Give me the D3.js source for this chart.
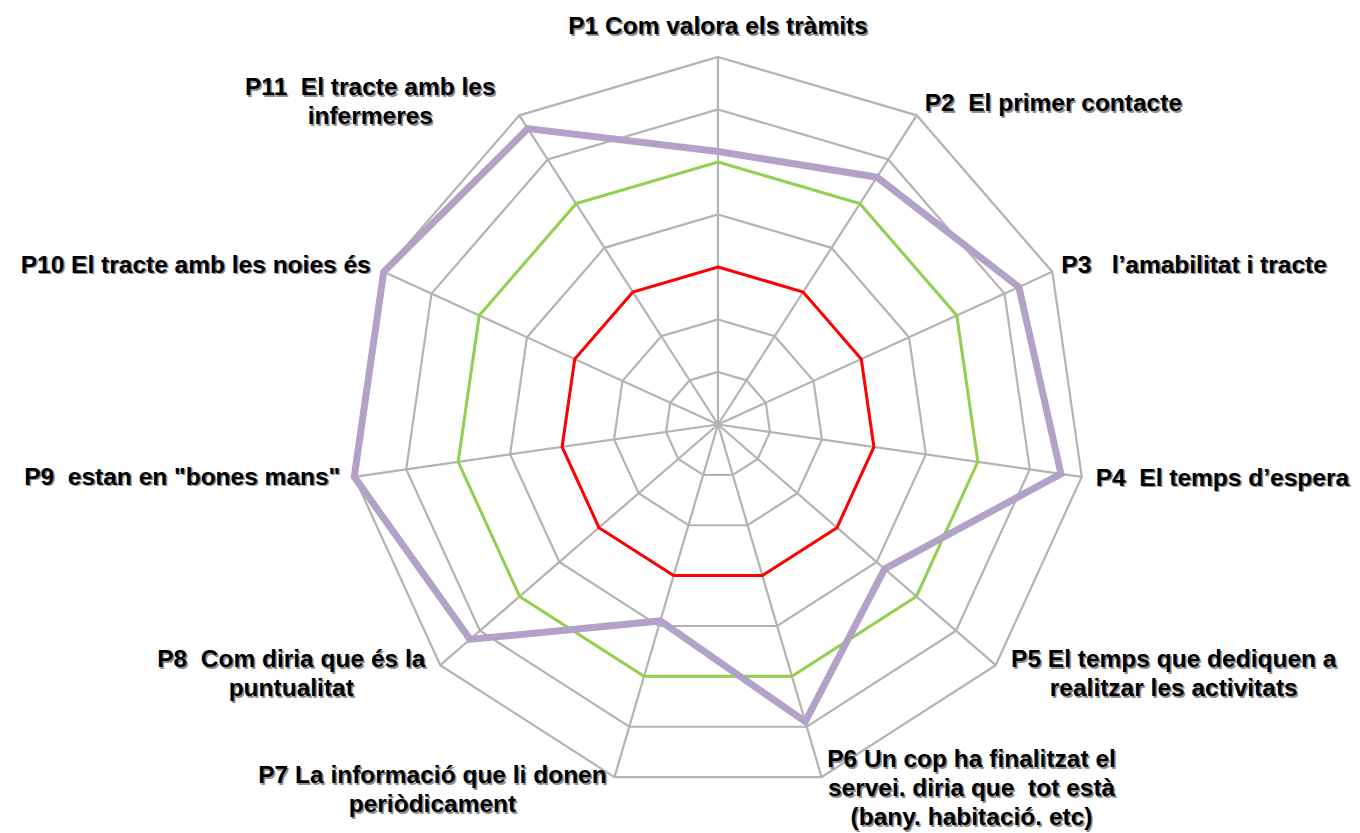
<!DOCTYPE html>
<html>
<head>
<meta charset="utf-8">
<script src="https://cdn.jsdelivr.net/npm/d3@7/dist/d3.min.js"></script>
<style>
html,body{margin:0;padding:0;background:#fff;}
svg{display:block;}
text{font-family:"Liberation Sans",Arial,sans-serif;font-weight:bold;white-space:pre;}
</style>
</head>
<body>
<svg id="chart" width="1360" height="833"></svg>
<script>
// ---- data ----
const categories = ["P1","P2","P3","P4","P5","P6","P7","P8","P9","P10","P11"];
const categoryLabels = [
  ["P1 Com valora els tràmits"],
  ["P2  El primer contacte"],
  ["P3   l’amabilitat i tracte"],
  ["P4  El temps d’espera"],
  ["P5 El temps que dediquen a","realitzar les activitats"],
  ["P6 Un cop ha finalitzat el","servei. diria que  tot està","(bany. habitació. etc)"],
  ["P7 La informació que li donen","periòdicament"],
  ["P8  Com diria que és la","puntualitat"],
  ["P9  estan en \"bones mans\""],
  ["P10 El tracte amb les noies és"],
  ["P11  El tracte amb les","infermeres"]
];
const gridTicks = [1,2,3,4,5,6,7];
const seriesRed    = [3,3,3,3,3,3,3,3,3,3,3];
const seriesGreen  = [5,5,5,5,5,5,5,5,5,5,5];
const seriesPurple = [5.2,5.6,6.3,6.6,4.2,5.9,3.9,6.25,7,7,6.7];

// ---- layout ----
const cx = 718, cy = 424.5, R = 367.5;
const svg = d3.select("#chart");
const n = categories.length;
const angle = d3.scaleLinear().domain([0, n]).range([0, 2*Math.PI]);
const r = d3.scaleLinear().domain([0, 7]).range([0, R]);
const g = svg.append("g").attr("transform", `translate(${cx},${cy})`);

const pt = (i, v) => [Math.sin(angle(i)) * r(v), -Math.cos(angle(i)) * r(v)];
const radial = d3.lineRadial().angle((d,i) => angle(i)).radius(d => r(d)).curve(d3.curveLinearClosed);

// grid rings
g.selectAll("path.ring").data(gridTicks).join("path")
  .attr("class","ring")
  .attr("d", t => radial(categories.map(() => t)))
  .attr("fill","none").attr("stroke","#b3b3b3").attr("stroke-width",2.2);

// spokes
g.selectAll("line.spoke").data(categories).join("line")
  .attr("class","spoke")
  .attr("x1",0).attr("y1",0)
  .attr("x2",(d,i)=>pt(i,7)[0]).attr("y2",(d,i)=>pt(i,7)[1])
  .attr("stroke","#b3b3b3").attr("stroke-width",2.2);

// series
const series = [
  {vals: seriesRed, color:"#ff0000", w:3},
  {vals: seriesGreen, color:"#92d050", w:3},
  {vals: seriesPurple, color:"#b3a2c7", w:7}
];
g.selectAll("path.series").data(series).join("path")
  .attr("class","series")
  .attr("d", s => radial(s.vals))
  .attr("fill","none").attr("stroke", s => s.color).attr("stroke-width", s => s.w)
  .attr("stroke-linejoin","miter");

// labels: anchor and offset relative to outer vertex
const labelLayout = [
  {a:"middle", dx:0,    dy:-23},
  {a:"start",  dx:8,    dy:-4},
  {a:"start",  dx:9,    dy:1},
  {a:"start",  dx:14,   dy:9},
  {a:"middle", dx:178,  dy:2},
  {a:"middle", dx:150,  dy:-10},
  {a:"middle", dx:-182, dy:6},
  {a:"middle", dx:-149, dy:2},
  {a:"end",    dx:-14,  dy:8},
  {a:"end",    dx:-13,  dy:1},
  {a:"middle", dx:-149, dy:-20}
];
const lineH = 29;
const fs = 24.5;
const lab = svg.append("g");
categoryLabels.forEach((lines, i) => {
  const p = pt(i, 7);
  const L = labelLayout[i];
  const x = cx + p[0] + L.dx, y0 = cy + p[1] + L.dy;
  [["#8f8f8f",1.5],["#000",0]].forEach(([col,off]) => {
    const t = lab.append("text")
      .attr("text-anchor", L.a)
      .attr("font-size", fs)
      .attr("fill", col)
      .attr("transform", `translate(${x+off},${y0+off})`);
    lines.forEach((ln, k) => {
      t.append("tspan").attr("x", 0).attr("y", k*lineH).text(ln);
    });
  });
});
</script>
</body>
</html>
